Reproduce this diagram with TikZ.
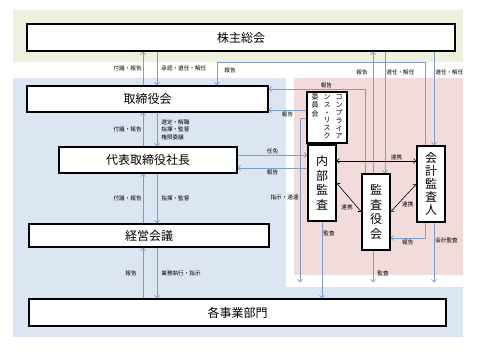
\documentclass[tikz,border=0pt]{standalone}
\usepackage{fontspec}
\setmainfont{Noto Sans CJK JP}
\usepackage{tikz}
\usetikzlibrary{arrows.meta,positioning}
\definecolor{bggreen}{HTML}{EBF1DE}
\definecolor{bgblue}{HTML}{DCE6F2}
\definecolor{bgpink}{HTML}{F2DCDB}
\definecolor{linkblue}{HTML}{7F9CC9}
\newcommand{\tatecol}[1]{\begin{tabular}[t]{@{}c@{}}#1\end{tabular}}

\begin{document}
\begin{tikzpicture}[x=1pt,y=-1pt,
    box/.style={draw,line width=1.1pt,fill=white,inner sep=0pt,align=center,
                font=\fontsize{12}{14.5}\selectfont},
    lbl/.style={inner sep=1pt,align=left,font=\fontsize{5.6}{7.5}\selectfont},
    arrow/.style={draw=linkblue,line width=0.8pt,-{Straight Barb[length=2.5pt,width=5pt]}},
    tie/.style={line width=0.6pt,
                {Straight Barb[length=2.5pt,width=5pt]}-{Straight Barb[length=2.5pt,width=5pt]}}]
    \useasboundingbox[fill=white] (0,0) rectangle (477,358);
    \fill[bggreen] (13,10) rectangle (463,62);
    \fill[bgblue] (13,78) rectangle (463,337);
    \fill[white] (286,70) rectangle (470,287);
    \fill[bgpink] (294,78) rectangle (463,275);

    \node[box,minimum width=428pt,minimum height=27pt] (gm) at (241,37.5) {株主総会};
    \node[box,minimum width=241pt,minimum height=26pt] (board) at (147.5,99) {取締役会};
    \node[box,minimum width=178pt,minimum height=26pt] (ceo) at (148,160) {代表取締役社長};
    \node[box,minimum width=240pt,minimum height=23pt] (mtg) at (149,235.5) {経営会議};
    \node[box,minimum width=417pt,minimum height=27pt] (dept) at (237.5,312.5) {各事業部門};
    \node[box,minimum width=40pt,minimum height=51pt,font=\fontsize{7}{7.6}\selectfont]
         (comp) at (327,117.5)
         {\tatecol{委\\員\\会}\hspace{5pt}\tatecol{ン\\ス\\・\\リ\\ス\\ク}\hspace{5pt}\tatecol{コ\\ン\\プ\\ラ\\イ\\ア}};
    \node[box,minimum width=28pt,minimum height=76pt] (ia) at (322,183) {内\\部\\監\\査};
    \node[box,minimum width=28pt,minimum height=76pt] (kansa) at (376,212) {監\\査\\役\\会};
    \node[box,minimum width=28pt,minimum height=76pt,font=\fontsize{12}{13}\selectfont]
         (auditor) at (431,184) {会\\計\\監\\査\\人};

    \coordinate (up) at (143,0);
    \coordinate (dn) at (157,0);
    \coordinate (xr) at (217,0);
    \coordinate (xc) at (300,0);
    \coordinate (xk1) at (365,0);
    \coordinate (xk2) at (373,0);
    \coordinate (xk3) at (385,0);
    \coordinate (xa1) at (425,0);
    \coordinate (xa2) at (434,0);
    \coordinate (yt) at (0,62);
    \coordinate (yk) at (0,89);
    \coordinate (yc1) at (0,110);
    \coordinate (yc2) at (0,118);
    \coordinate (ys1) at (0,155);
    \coordinate (yl) at (0,161);
    \coordinate (ys2) at (0,168);
    \coordinate (yb) at (0,238);

    \draw[arrow] (up |- board.north) -- node[lbl,left] {付議・報告} (up |- gm.south);
    \draw[arrow] (dn |- gm.south) -- node[lbl,right=3pt] {承認・選任・解任} (dn |- board.north);
    \draw[arrow] (up |- ceo.north) -- node[lbl,left] {付議・報告} (up |- board.south);
    \draw[arrow] (dn |- board.south) -- node[lbl,right=3pt] {選定・解職\\指揮・監督\\権限委譲} (dn |- ceo.north);
    \draw[arrow] (up |- mtg.north) -- node[lbl,left] {付議・報告} (up |- ceo.south);
    \draw[arrow] (dn |- ceo.south) -- node[lbl,right=3pt] {指揮・監督} (dn |- mtg.north);
    \draw[arrow] (up |- dept.north) -- node[lbl,left=5pt] {報告} (up |- mtg.south);
    \draw[arrow] (dn |- mtg.south) -- node[lbl,right=3pt] {業務執行・指示} (dn |- dept.north);

    \draw[arrow] (auditor.north -| xa1) |- (xr |- yt) node[lbl,below right=4pt and 6pt] {報告}
        -- (xr |- board.north);
    \draw[arrow] (xk1 |- kansa.north) |- node[lbl,above,pos=0.7] {報告} (board.east |- yk);
    \draw[arrow] (comp.west |- yc1) -- node[lbl,below] {報告} (board.east |- yc1);
    \draw[arrow,shorten >=16pt] (comp.west |- yc2) -| node[lbl,left,pos=0.72] {指示・通達} (xc |- dept.north);
    \draw[arrow] (ceo.east |- ys1) -- node[lbl,above] {任免} (ia.west |- ys1);
    \draw[arrow] (ia.west |- ys2) -- node[lbl,below] {報告} (ceo.east |- ys2);

    \draw[arrow] (xk2 |- kansa.north) -- node[lbl,left=4pt,pos=0.83] {報告} (xk2 |- gm.south);
    \draw[arrow] (xk3 |- gm.south) -- node[lbl,right,pos=0.17] {選任・解任} (xk3 |- kansa.north);
    \draw[arrow] (xa2 |- gm.south) -- node[lbl,right,pos=0.22] {選任・解任} (xa2 |- auditor.north);

    \draw[tie] (ia.east |- yl) -- node[lbl,above,pos=0.75] {連携} (auditor.west |- yl);
    \draw[tie] (ia.east) -- node[lbl,below left,pos=0.7] {連携} (kansa.west);
    \draw[tie] (kansa.east) -- node[lbl,below right,pos=0.4] {連携} (auditor.west);

    \draw[arrow] (ia.south) -- node[lbl,right,pos=0.15] {監査} (ia.south |- dept.north);
    \draw[arrow,shorten >=16pt] (xk2 |- kansa.south) -- node[lbl,right=3pt,pos=0.47] {監査} (xk2 |- dept.north);
    \draw[arrow,shorten >=16pt] (xa2 |- auditor.south) -- node[lbl,right,pos=0.23] {会計監査} (xa2 |- dept.north);
    \draw[arrow] (xa1 |- auditor.south) |- node[lbl,below,pos=0.75] {報告} (kansa.east |- yb);
\end{tikzpicture}
\end{document}
